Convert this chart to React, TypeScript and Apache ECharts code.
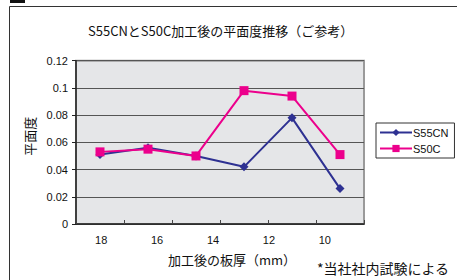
import React, { useEffect, useRef } from "react";
import * as echarts from "echarts";

const categories = ["No.1", "No.2", "No.3", "No.4", "No.5", "No.6"];
const s55cn = [0.051, 0.056, 0.050, 0.042, 0.078, 0.026];
const s50c = [0.053, 0.055, 0.050, 0.098, 0.094, 0.051];
const thicknessLabels = [18, 16, 14, 12, 10];
const thicknessMin = 8.6;
const thicknessMax = 18.9;
const yMax = 0.12;
const yStep = 0.02;

const latin = "'Liberation Sans', 'Noto Sans CJK JP', sans-serif";
const cjk = "'Noto Sans CJK JP', 'Liberation Sans', sans-serif";

export default function App() {
  const ref = useRef<HTMLDivElement>(null);
  useEffect(() => {
    if (!ref.current) return;
    const chart = echarts.init(ref.current, null, { renderer: "svg" });
    chart.setOption({
      animation: false,
      backgroundColor: "#ffffff",
      title: {
        text: "S55CNとS50C加工後の平面度推移（ご参考）",
        left: 88,
        top: 24,
        padding: 0,
        textStyle: { fontSize: 13, fontWeight: "normal", color: "#111", fontFamily: cjk },
      },
      graphic: [
        {
          type: "rect",
          shape: { x: 9.5, y: 6.5, width: 470, height: 300 },
          style: { fill: "none", stroke: "#333", lineWidth: 1 },
          z: -1,
        },
        {
          type: "rect",
          shape: { x: 10, y: -10, width: 15, height: 13 },
          style: { fill: "#111" },
        },
        {
          type: "text",
          x: 317,
          y: 268,
          style: {
            text: "*当社社内試験による",
            fontSize: 14,
            fill: "#111",
            fontFamily: cjk,
            verticalAlign: "middle",
          },
        },
      ],
      legend: {
        orient: "vertical",
        left: 376,
        top: 123,
        itemWidth: 32,
        itemHeight: 9,
        itemGap: 5,
        padding: [4, 6, 4, 3],
        backgroundColor: "#fff",
        borderColor: "#333",
        borderWidth: 1,
        borderRadius: 0,
        textStyle: { fontSize: 11, color: "#111", fontFamily: "'Liberation Sans Narrow', 'Liberation Sans', sans-serif", padding: [0, 0, 0, -4] },
        data: ["S55CN", "S50C"],
      },
      grid: {
        left: 76,
        right: 93,
        top: 60.7,
        bottom: 56,
        show: true,
        backgroundColor: "#e5e6e8",
        borderColor: "#9a9a9a",
        borderWidth: 2,
      },
      xAxis: [
        {
          type: "category",
          data: categories,
          boundaryGap: true,
          axisLine: { show: true, lineStyle: { color: "#222", width: 1.5 } },
          axisTick: { show: true, inside: true, length: 4, lineStyle: { color: "#444" } },
          axisLabel: { show: false },
          splitLine: { show: false },
        },
        {
          type: "value",
          inverse: true,
          min: thicknessMin,
          max: thicknessMax,
          position: "bottom",
          axisLine: { show: false },
          axisTick: { show: false },
          splitLine: { show: false },
          axisLabel: {
            customValues: thicknessLabels,
            margin: 10,
            fontSize: 11,
            color: "#111",
            fontFamily: latin,
          },
          name: "加工後の板厚（mm）",
          nameLocation: "middle",
          nameGap: 29,
          nameTextStyle: { fontSize: 13, color: "#111", fontFamily: cjk, padding: [0, 0, 0, 24] },
        },
      ],
      yAxis: {
        type: "value",
        min: 0,
        max: yMax,
        interval: yStep,
        name: "平面度",
        nameLocation: "middle",
        nameRotate: 90,
        nameGap: 38,
        nameTextStyle: { fontSize: 13, color: "#111", fontFamily: cjk, padding: [0, 0, 0, 12] },
        axisLine: { show: true, lineStyle: { color: "#222", width: 1.5 } },
        axisTick: { show: true, length: 4, lineStyle: { color: "#222" } },
        axisLabel: {
          margin: 8,
          fontSize: 11,
          color: "#111",
          fontFamily: latin,
          formatter: (v: number) => String(parseFloat(v.toFixed(2))),
        },
        splitLine: { show: true, lineStyle: { color: "#555", width: 1 } },
      },
      series: [
        {
          name: "S55CN",
          type: "line",
          xAxisIndex: 0,
          data: s55cn,
          symbol: "diamond",
          symbolSize: 9,
          itemStyle: { color: "#2e3192" },
          lineStyle: { color: "#2e3192", width: 2 },
          z: 3,
        },
        {
          name: "S50C",
          type: "line",
          xAxisIndex: 0,
          data: s50c,
          symbol: "rect",
          symbolSize: 9,
          itemStyle: { color: "#ec008c" },
          lineStyle: { color: "#ec008c", width: 2 },
          z: 4,
        },
      ],
    });
    return () => chart.dispose();
  }, []);
  return <div ref={ref} style={{ position: "fixed", left: 0, top: 0, width: 457, height: 280 }} />;
}
